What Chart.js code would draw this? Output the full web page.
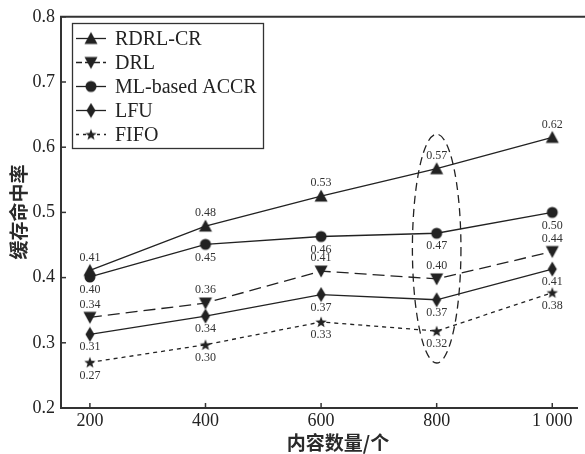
<!DOCTYPE html>
<html><head><meta charset="utf-8">
<script src="https://cdn.jsdelivr.net/npm/chart.js@4/dist/chart.umd.min.js"></script>
<style>html,body{margin:0;padding:0;background:#fff}#wrap{width:585px;height:454px}</style>
</head><body><div id="wrap"><canvas id="c" width="585" height="454"></canvas></div>
<script>
const contentCounts = [200, 400, 600, 800, 1000];
const xTickValues = [200, 400, 600, 800, 1000];
const xTickLabels = ['200', '400', '600', '800', '1 000'];
const yTickValues = [0.2, 0.3, 0.4, 0.5, 0.6, 0.7, 0.8];
const xTitle = '内容数量/个';
const yTitle = '缓存命中率';
const seriesNames = ['RDRL-CR', 'DRL', 'ML-based ACCR', 'LFU', 'FIFO'];
const rdrlCR = [0.411, 0.479, 0.525, 0.567, 0.615];
const drl = [0.339, 0.361, 0.410, 0.398, 0.440];
const mlACCR = [0.401, 0.451, 0.463, 0.468, 0.500];
const lfu = [0.313, 0.341, 0.374, 0.366, 0.413];
const fifo = [0.270, 0.297, 0.332, 0.318, 0.377];
const rdrlLabels = ['0.41', '0.48', '0.53', '0.57', '0.62'];
const drlLabels = ['0.34', '0.36', '0.41', '0.40', '0.44'];
const mlLabels = ['0.40', '0.45', '0.46', '0.47', '0.50'];
const lfuLabels = ['0.31', '0.34', '0.37', '0.37', '0.41'];
const fifoLabels = ['0.27', '0.30', '0.33', '0.32', '0.38'];
// highlighted region (ellipse) in data units
const ellipseCenter = {x: 800, y: 0.4445};
const ellipseRadius = {x: 42, y: 0.1755};

const INK = '#222';
function makeMarker(type) {
  const c = document.createElement('canvas');
  const w = 16, h = 16;
  c.width = w; c.height = h;
  const g = c.getContext('2d');
  g.fillStyle = INK;
  g.beginPath();
  const cx = w / 2, cy = h / 2;
  if (type === 'up') { g.moveTo(cx, cy - 6.5); g.lineTo(cx + 6.5, cy + 5.5); g.lineTo(cx - 6.5, cy + 5.5); }
  else if (type === 'down') { g.moveTo(cx, cy + 6.5); g.lineTo(cx + 6.5, cy - 5.5); g.lineTo(cx - 6.5, cy - 5.5); }
  else if (type === 'circle') { g.arc(cx, cy, 5.5, 0, Math.PI * 2); }
  else if (type === 'diamond') { g.moveTo(cx, cy - 7.5); g.lineTo(cx + 4.5, cy); g.lineTo(cx, cy + 7.5); g.lineTo(cx - 4.5, cy); }
  else if (type === 'star') {
    for (let i = 0; i < 10; i++) {
      const r = i % 2 === 0 ? 6 : 2.5;
      const a = -Math.PI / 2 + i * Math.PI / 5;
      const px = cx + r * Math.cos(a), py = cy + 0.5 + r * Math.sin(a);
      if (i === 0) g.moveTo(px, py); else g.lineTo(px, py);
    }
  }
  g.closePath(); g.fill();
  return c;
}
const markers = [makeMarker('up'), makeMarker('down'), makeMarker('circle'), makeMarker('diamond'), makeMarker('star')];
const seriesValues = [rdrlCR, drl, mlACCR, lfu, fifo];
const seriesLabels = [rdrlLabels, drlLabels, mlLabels, lfuLabels, fifoLabels];
const labelAbove = [true, true, false, false, false];
const dashes = [[], [12, 6], [], [], [4, 4]];

const datasets = seriesNames.map((n, i) => ({
  label: n,
  data: contentCounts.map((x, j) => ({x: x, y: seriesValues[i][j]})),
  borderColor: INK, backgroundColor: INK, borderWidth: 1.3,
  borderDash: dashes[i], pointStyle: markers[i], pointRadius: 6, fill: false, tension: 0
}));

const SERIF = '"Liberation Serif", "DejaVu Serif", serif';
const CJK = '"Noto Sans CJK SC", sans-serif';
const decor = {
  id: 'decor',
  afterDatasetsDraw(chart) {
    const ctx = chart.ctx, xs = chart.scales.x, ys = chart.scales.y, a = chart.chartArea;
    ctx.save();
    // data labels
    ctx.font = '12px ' + SERIF; ctx.fillStyle = '#333'; ctx.textAlign = 'center'; ctx.textBaseline = 'middle';
    seriesValues.forEach((vals, i) => {
      vals.forEach((v, j) => {
        const px = xs.getPixelForValue(contentCounts[j]), py = ys.getPixelForValue(v);
        ctx.fillText(seriesLabels[i][j], px, labelAbove[i] ? py - 13 : py + 13);
      });
    });
    // ellipse
    const ex = xs.getPixelForValue(ellipseCenter.x), ey = ys.getPixelForValue(ellipseCenter.y);
    const rx = Math.abs(xs.getPixelForValue(ellipseCenter.x + ellipseRadius.x) - ex);
    const ry = Math.abs(ys.getPixelForValue(ellipseCenter.y + ellipseRadius.y) - ey);
    ctx.strokeStyle = INK; ctx.lineWidth = 1.3; ctx.setLineDash([8, 5]);
    ctx.beginPath(); ctx.ellipse(ex, ey, rx, ry, 0, 0, Math.PI * 2); ctx.stroke();
    ctx.setLineDash([]);
    // frame top + inward ticks
    ctx.strokeStyle = '#333'; ctx.lineWidth = 2;
    ctx.beginPath(); ctx.moveTo(a.left - 1, a.top); ctx.lineTo(chart.width, a.top); ctx.stroke();
    ctx.lineWidth = 1.5;
    yTickValues.forEach(v => { const py = ys.getPixelForValue(v); ctx.beginPath(); ctx.moveTo(a.left, py); ctx.lineTo(a.left + 5, py); ctx.stroke(); });
    xTickValues.forEach(v => { const px = xs.getPixelForValue(v); ctx.beginPath(); ctx.moveTo(px, a.bottom); ctx.lineTo(px, a.bottom - 5); ctx.stroke(); });
    // axis titles
    ctx.fillStyle = '#2a2a2a'; ctx.font = 'bold 19px ' + CJK; ctx.textAlign = 'center'; ctx.textBaseline = 'middle';
    ctx.fillText(xTitle, 338, 443);
    ctx.save(); ctx.translate(19, 212); ctx.rotate(-Math.PI / 2); ctx.fillText(yTitle, 0, 0); ctx.restore();
    // legend
    const L = 72, T = 23, R = 263, B = 148;
    ctx.fillStyle = '#fff'; ctx.fillRect(L, T, R - L, B - T);
    ctx.strokeStyle = '#333'; ctx.lineWidth = 1.3; ctx.strokeRect(L + 0.5, T + 0.5, R - L, B - T);
    ctx.font = '20px ' + SERIF; ctx.fillStyle = '#222'; ctx.textAlign = 'left'; ctx.textBaseline = 'middle';
    seriesNames.forEach((n, i) => {
      const y = 38.5 + i * 24;
      ctx.strokeStyle = INK; ctx.lineWidth = 1.3;
      if (i === 1) ctx.setLineDash([6, 3]); else if (i === 4) ctx.setLineDash([3, 4]); else ctx.setLineDash([]);
      ctx.beginPath(); ctx.moveTo(76, y); ctx.lineTo(106, y); ctx.stroke();
      ctx.setLineDash([]);
      ctx.drawImage(markers[i], 91 - 8, y - 8);
      ctx.fillText(n, 115, y + 1);
    });
    ctx.restore();
  }
};

new Chart(document.getElementById('c'), {
  type: 'line',
  data: {datasets},
  options: {
    responsive: false, animation: false,
    layout: {padding: {top: 15, right: 0, left: 0, bottom: 0}},
    plugins: {legend: {display: false}, tooltip: {enabled: false}},
    scales: {
      x: {
        type: 'linear', min: 150, max: 1044,
        afterBuildTicks: s => { s.ticks = xTickValues.map(v => ({value: v})); },
        afterFit: s => { s.height = 46; s.paddingRight = 0; s.paddingLeft = 0; },
        grid: {display: false, drawTicks: false, tickLength: 0},
        border: {display: true, color: '#333', width: 2},
        ticks: {color: '#222', padding: 2, maxRotation: 0, autoSkip: false,
          font: {family: SERIF, size: 18},
          callback: (v) => xTickLabels[xTickValues.indexOf(v)] ?? ''},
        title: {display: false}
      },
      y: {
        type: 'linear', min: 0.2, max: 0.8,
        afterBuildTicks: s => { s.ticks = yTickValues.map(v => ({value: v})); },
        afterFit: s => { s.width = 61; },
        grid: {display: false, drawTicks: false, tickLength: 0},
        border: {display: true, color: '#333', width: 2},
        ticks: {color: '#222', padding: 6, font: {family: SERIF, size: 18},
          callback: v => Number(v).toFixed(1)},
        title: {display: false}
      }
    }
  },
  plugins: [decor]
});
</script>
</body></html>
